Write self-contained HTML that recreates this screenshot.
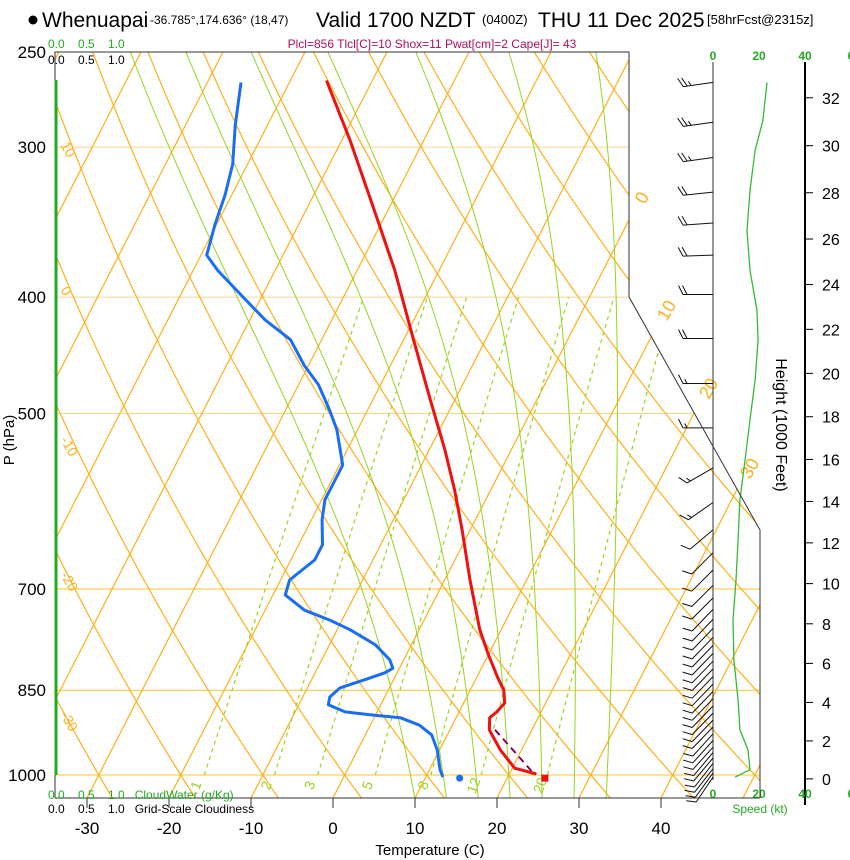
<!DOCTYPE html>
<html><head><meta charset="utf-8"><style>
body{margin:0;background:#fff;width:850px;height:860px;overflow:hidden}
svg{display:block;font-family:"Liberation Sans",Arial,sans-serif}
</style></head><body>
<svg id="chart" width="850" height="860" viewBox="0 0 850 860" xmlns="http://www.w3.org/2000/svg">
<defs><clipPath id="clip"><polygon points="55,52 629,52 629,297 760,530 760,798 55,798"/></clipPath></defs>
<g>
<circle cx="33" cy="20" r="4.5" fill="#000"/>
<text x="42" y="27" font-size="21">Whenuapai</text>
<text x="150" y="24" font-size="12">-36.785°,174.636° (18,47)</text>
<text x="316" y="27" font-size="21">Valid 1700 NZDT</text>
<text x="482" y="24" font-size="13">(0400Z)</text>
<text x="538" y="27" font-size="21">THU 11 Dec 2025</text>
<text x="707" y="24" font-size="13">[58hrFcst@2315z]</text>
</g>
<text x="432" y="48" font-size="12" fill="#b0105a" text-anchor="middle">Plcl=856 Tlcl[C]=10 Shox=11 Pwat[cm]=2 Cape[J]= 43</text>
<g id="grid" clip-path="url(#clip)"></g>
<g id="labels"></g>
<g id="profiles" clip-path="url(#clip)"></g>
<g id="winds"></g>
<g id="axes"></g>
</svg>
<script>
// ---- data ----
const tempP=[264,296,339,380,434,487,536,579,625,688,757,794,830,850,871,886,896,917,953,987,998];
const tempT=[-45.6,-39.0,-31.6,-25.4,-18.8,-13.0,-8.1,-4.4,-1.0,3.1,7.4,10.0,12.6,14.1,15.0,14.6,14.1,14.8,17.4,20.3,23.3];
const dewP=[265,288,310,329,348,369,380,398,418,434,456,473,497,516,552,568,590,613,643,662,675,688,708,729,743,757,779,802,815,822,833,846,861,874,886,891,896,909,926,953,990,1004];
const dewT=[-55.9,-53.9,-51.8,-50.8,-50.2,-49.3,-47.0,-42.7,-38.1,-33.8,-30.5,-27.6,-24.6,-22.5,-19.6,-19.6,-19.6,-18.7,-17.1,-17.1,-18.0,-18.9,-18.5,-15.2,-11.5,-8.4,-4.4,-1.7,-0.8,-1.5,-3.5,-6.0,-6.7,-6.4,-3.9,-0.7,3.2,6.0,8.1,9.7,11.3,12.1];
const parcelP=[917,957,1000];
const parcelT=[15.5,19.3,23.2];
const sfcP=1006, sfcT=24.6, sfcTd=14.2;
const spdP=[265,285,302,326,352,380,410,434,469,506,547,590,637,688,743,802,866,917,953,990,1004];
const spd=[23.5,21.7,18.3,16.1,14.8,16.1,19.1,19.6,18.3,16.1,13.9,11.7,10.9,10,8.7,9.1,10.9,11.7,15.2,16.1,9.6];
const barbP=[265,286,306,327,347,369,398,433,472,514,555,593,625,653,675,695,712,728,742,755,768,780,792,804,816,828,840,852,864,876,888,900,912,924,936,948,958,968,978,988,996,1004];
const barbDir=[262,262,262,264,266,268,270,270,270,270,240,235,230,225,225,225,225,224,224,224,224,224,224,224,224,224,224,224,224,224,224,224,224,222,222,222,220,220,218,218,216,214];
const barbSpd=[25,25,25,20,20,20,20,20,15,15,15,15,10,10,10,10,10,10,10,10,10,10,10,10,10,10,10,10,10,10,10,10,10,10,10,10,10,10,10,10,10,10];
const isoT=[-100,-90,-80,-70,-60,-50,-40,-30,-20,-10,0,10,20,30,40,50];
const thetaC=[-30,-20,-10,0,10,20,30,40,50,60,70,80,90,100,110,120,130,140,150];
const moistTw=[8,12,16,20,24,28,32];
const mixW=[1,2,3,5,8,12,20];
const pTicks=[250,300,400,500,700,850,1000];
const tTicks=[-30,-20,-10,0,10,20,30,40];
const hTicks=[0,2,4,6,8,10,12,14,16,18,20,22,24,26,28,30,32];
const spdTicks=[0,20,40,6];
// ---- scales ----
const NS="http://www.w3.org/2000/svg";
function yP(p){return 775-521.5*Math.log(1000/p);}
function xT(T,y){return 333+8.2*T+0.512*(798-y);}
function mk(tag,attrs,parent){const e=document.createElementNS(NS,tag);for(const k in attrs)e.setAttribute(k,attrs[k]);parent.appendChild(e);return e;}
const grid=document.getElementById('grid'),labels=document.getElementById('labels'),prof=document.getElementById('profiles'),winds=document.getElementById('winds'),axes=document.getElementById('axes');
function pathFromPT(ps,ts){return ps.map((p,i)=>{const y=yP(p);return (i?'L':'M')+xT(ts[i],y).toFixed(1)+','+y.toFixed(1);}).join('');}
// pressure lines
pTicks.forEach(p=>{const y=yP(p);const l=mk('line',{x1:55,x2:760,y1:y,y2:y,stroke:p>=700?'#ffc433':'#f8d890','stroke-width':1},grid);
});
// isotherms
isoT.forEach(T=>{const l=mk('line',{x1:xT(T,800),y1:800,x2:xT(T,40),y2:40,stroke:'#ffb01a','stroke-width':1.2},grid);
});
// dry adiabats
thetaC.forEach(th=>{const ps=[],ts=[];for(let p=1050;p>=240;p-=10){ps.push(p);ts.push((th+273.15)*Math.pow(p/1000,0.2857)-273.15);}
const e=mk('path',{d:pathFromPT(ps,ts),fill:'none',stroke:'#ffb01a','stroke-width':1.2},grid);
});
// moist adiabats
function es(Tc){return 6.112*Math.exp(17.67*Tc/(Tc+243.5));}
function dTdp(T,p){const r=0.622*es(T-273.15)/(p-es(T-273.15));return (287*T+2.5e6*r)/(p*(1004+2.5e6*2.5e6*r*0.622/(287*T*T)));}
moistTw.forEach(tw=>{let up=[],T=tw+273.15;for(let p=1000;p>=245;p-=5){up.push([p,T-273.15]);T-=dTdp(T,p)*5;}
let dn=[];T=tw+273.15;for(let p=1000;p<=1050;p+=5){dn.push([p,T-273.15]);T+=dTdp(T,p)*5;}
const pts=dn.reverse().concat(up.slice(1));
const e=mk('path',{d:pathFromPT(pts.map(a=>a[0]),pts.map(a=>a[1])),fill:'none',stroke:'#99d420','stroke-width':1},grid);
});
// mixing ratio lines
function tdW(w,p){const e=w*p/(622+w);const l=Math.log(e/6.112);return 243.5*l/(17.67-l);}
mixW.forEach(w=>{const ps=[],ts=[];for(let p=1000;p>=400;p-=20){ps.push(p);ts.push(tdW(w,p));}
const e=mk('path',{d:pathFromPT(ps,ts),fill:'none',stroke:'#99d420','stroke-width':1.2,'stroke-dasharray':'4,4'},grid);

const y=787,x=xT(tdW(w,yPinv(y)),y);
const t=mk('text',{x:x,y:y,'font-size':14,fill:'#99d420','text-anchor':'middle',transform:`rotate(-70 ${x} ${y})`},labels);t.textContent=w;
});
function yPinv(y){return 1000*Math.exp(-(775-y)/521.5);}
// dry adiabat labels on left
[[10,145],[0,290],[-10,440],[-20,575],[-30,715]].forEach(a=>{const t=mk('text',{x:60,y:a[1],'font-size':14,fill:'#ffb01a',transform:`rotate(60 60 ${a[1]})`},labels);t.textContent=a[0];
});
// isotherm labels on right
[[0,205],[10,322],[20,400],[30,480]].forEach(a=>{const x=xT(a[0],a[1])+8;const t=mk('text',{x:x,y:a[1],'font-size':18,fill:'#ffb01a',transform:`rotate(-60 ${x} ${a[1]})`},labels);t.textContent=a[0];
});
// profiles
let e=mk('path',{d:pathFromPT(dewP,dewT),fill:'none',stroke:'#1a6ef5','stroke-width':3,'stroke-linejoin':'round'},prof);

e=mk('path',{d:pathFromPT(tempP,tempT),fill:'none',stroke:'#f01010','stroke-width':3,'stroke-linejoin':'round'},prof);

e=mk('path',{d:pathFromPT(parcelP,parcelT),fill:'none',stroke:'#800060','stroke-width':2,'stroke-dasharray':'7,5'},prof);

let sy=yP(sfcP);
e=mk('circle',{cx:xT(sfcTd,sy),cy:sy,r:3.5,fill:'#1a6ef5'},prof);

e=mk('rect',{x:xT(sfcT,sy)-3.5,y:sy-3.5,width:7,height:7,fill:'#f01010'},prof);

// frame
e=mk('polyline',{points:'55,798 55,52 629,52 629,297 760,530 760,798 55,798',fill:'none',stroke:'#333','stroke-width':1},axes);

e=mk('line',{x1:56,x2:56,y1:80,y2:775,stroke:'#22aa22','stroke-width':3},axes);

pTicks.forEach(p=>{const t=mk('text',{x:46,y:yP(p)+6,'font-size':17,'text-anchor':'end'},axes);t.textContent=p;
});
tTicks.forEach(T=>{const x=333+8.2*T;mk('line',{x1:x,x2:x,y1:798,y2:808,stroke:'#333'},axes);
const t=mk('text',{x:x,y:834,'font-size':17,'text-anchor':'middle'},axes);t.textContent=T;
});
e=mk('text',{x:430,y:855,'font-size':15,'text-anchor':'middle'},axes);e.textContent='Temperature (C)';

e=mk('text',{x:14,y:440,'font-size':15,'text-anchor':'middle',transform:'rotate(-90 14 440)'},axes);e.textContent='P (hPa)';

[[48,'#22aa22','0.0    0.5    1.0'],[64,'#000','0.0    0.5    1.0'],[799,'#22aa22','0.0    0.5    1.0   CloudWater (g/Kg)'],[813,'#000','0.0    0.5    1.0   Grid-Scale Cloudiness']].forEach(a=>{
const t=mk('text',{x:48,y:a[0],'font-size':12,fill:a[1],'xml:space':'preserve'},axes);t.textContent=a[2];t.style.whiteSpace='pre';
});
// wind panel
mk('line',{x1:713,x2:713,y1:62,y2:780,stroke:'#333','stroke-width':1},winds);
mk('line',{x1:805,x2:805,y1:62,y2:805,stroke:'#000','stroke-width':2},winds);
spdTicks.forEach((v,i)=>{const x=713+i*46;[60,798].forEach(y=>{const t=mk('text',{x:x,y:y,'font-size':12,fill:'#22aa22','text-anchor':'middle','font-weight':'bold'},winds);t.textContent=v;
});});
e=mk('text',{x:760,y:813,'font-size':12,fill:'#22aa22','text-anchor':'middle'},winds);e.textContent='Speed (kt)';

function pZ(kft){const z=kft*304.8;return 1013.25*Math.pow(1-6.5e-3*z/288.15,5.2559);}
hTicks.forEach(h=>{const y=yP(pZ(h))-3;mk('line',{x1:805,x2:813,y1:y,y2:y,stroke:'#000'},winds);
const t=mk('text',{x:822,y:y+6,'font-size':16},winds);t.textContent=h;
});
e=mk('text',{x:776,y:425,'font-size':16,'text-anchor':'middle',transform:'rotate(90 776 425)'},winds);e.textContent='Height (1000 Feet)';

e=mk('path',{d:spdP.map((p,i)=>(i?'L':'M')+(713+2.3*spd[i]).toFixed(1)+','+yP(p).toFixed(1)).join(''),fill:'none',stroke:'#33bb33','stroke-width':1.3},winds);

barbP.forEach((p,i)=>{const y=yP(p),a=barbDir[i]*Math.PI/180;const dx=-Math.sin(a+Math.PI)*-1,dy=Math.cos(a);
// staff direction toward where wind comes from (screen: north up)
const sx=Math.sin(a),sy2=-Math.cos(a);const L=30;const ex=713+sx*L,ey=y+sy2*L;
const px=-sy2,py=sx; // perpendicular
const fx=0.5*sx+0.87*(sy2<0.5&&sx<0?-1:-1)*(-py)*0+0, fy=0;
let d=`M713,${y.toFixed(1)}L${ex.toFixed(1)},${ey.toFixed(1)}`;
// feather dir
const qx=0.45*sx+0.89*(py<0?px:-px)*(1), qy=0.45*sy2+0.89*(py<0?py:-py);
let s=barbSpd[i],k=0;
while(s>=10){const bx=ex-sx*k*4,by=ey-sy2*k*4;d+=`M${bx.toFixed(1)},${by.toFixed(1)}l${(qx*10).toFixed(1)},${(qy*10).toFixed(1)}`;s-=10;k++;}
if(s>=5){if(k==0)k=1;const bx=ex-sx*k*4,by=ey-sy2*k*4;d+=`M${bx.toFixed(1)},${by.toFixed(1)}l${(qx*5).toFixed(1)},${(qy*5).toFixed(1)}`;}
const b=mk('path',{d:d,fill:'none',stroke:'#111','stroke-width':1},winds);
});
</script>
</body></html>
